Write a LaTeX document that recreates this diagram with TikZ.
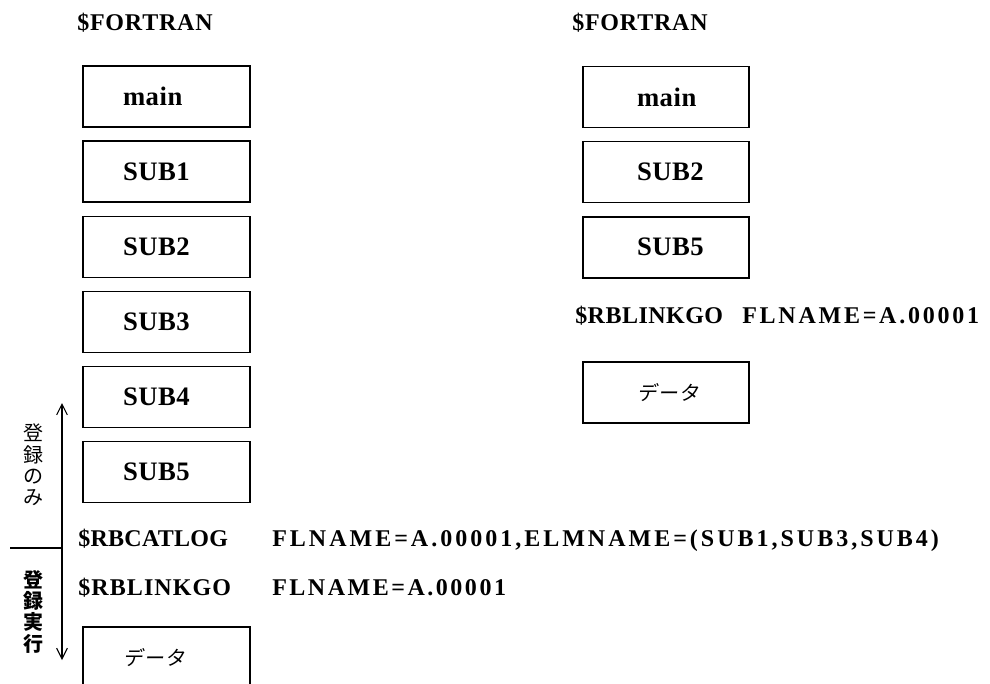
\documentclass[tikz,border=0pt]{standalone}
\usepackage{fontspec}
\setmainfont{Liberation Serif}
\newfontfamily\cmdfont{Liberation Serif}
\newfontfamily\jpfont{Noto Sans CJK JP}
\newfontfamily\jpslant{Noto Sans CJK JP}[FakeSlant=0.15]
\usetikzlibrary{arrows.meta, positioning}

\begin{document}
\begin{tikzpicture}[x=0.75pt, y=-0.75pt, >={Straight Barb[length=8pt, width=8pt]},
  cmd/.style={anchor=base west, inner sep=0pt, font=\cmdfont\bfseries\fontsize{18}{20}\selectfont\addfontfeature{LetterSpace=#1}},
  lbox/.style={draw, line width=1.1pt, minimum height=45.75pt, inner ysep=0pt, inner xsep=30pt, text width=65.25pt, align=left, font=\cmdfont\bfseries\fontsize{20}{22}\selectfont\addfontfeature{LetterSpace=2}},
  rbox/.style={lbox, inner xsep=40.5pt, text width=43.5pt},
  jp/.style={font=\jpslant\fontsize{15}{17}\selectfont\addfontfeature{LetterSpace=5}},
  vlabel/.style={align=center, inner sep=0pt, font=\jpfont#1\fontsize{15}{16}\selectfont},
  vlabel/.default={},
  node distance=9.5pt]
  \useasboundingbox (0,0) rectangle (990,683);

  \node[cmd=3.3] (fortL) at (77,30) {\$FORTRAN};
  \node[lbox] (mainL) at (166.5,96.5) {main};
  \node[lbox, below=of mainL] (sub1L) {SUB1};
  \node[lbox, below=of sub1L] (sub2L) {SUB2};
  \node[lbox, below=of sub2L] (sub3L) {SUB3};
  \node[lbox, below=of sub3L] (sub4L) {SUB4};
  \node[lbox, below=of sub4L] (sub5L) {SUB5};
  \node[cmd=1.2] (catlog) at (78,546) {\$RBCATLOG};
  \node[cmd=12.5] (catargs) at (272,546) {FLNAME=A.00001,ELMNAME=(SUB1,SUB3,SUB4)};
  \node[cmd=4.6] (linkL) at (78,595) {\$RBLINKGO};
  \node[cmd=10.5] (linkargs) at (272,595) {FLNAME=A.00001};
  \node[lbox, jp] (dataL) at (166.5,657.5) {データ};

  \node[cmd=3.3] (fortR) at (572,30) {\$FORTRAN};
  \node[rbox] (mainR) at (666,97) {main};
  \node[rbox, below=of mainR] (sub2R) {SUB2};
  \node[rbox, below=of sub2R] (sub5R) {SUB5};
  \node[cmd=2] (linkR) at (575,323) {\$RBLINKGO};
  \node[cmd=11.5] (linkRargs) at (742,323) {FLNAME=A.00001};
  \node[rbox, jp] (dataR) at (666,392.5) {データ};

  \node[vlabel] (regonly) at (33,465) {登\\録\\の\\み};
  \node[vlabel=\bfseries] (regrun) at (33,611.5) {登\\録\\実\\行};
  \coordinate (arrtop) at (62,403);
  \coordinate (arrbot) at (62,660);
  \coordinate (cut) at (62,548);
  \coordinate (cutend) at (10,548);
  \draw[<->, line width=0.8pt] (arrbot) -- (arrtop);
  \draw[line width=0.8pt] (cutend) -- (cut);
\end{tikzpicture}
\end{document}
